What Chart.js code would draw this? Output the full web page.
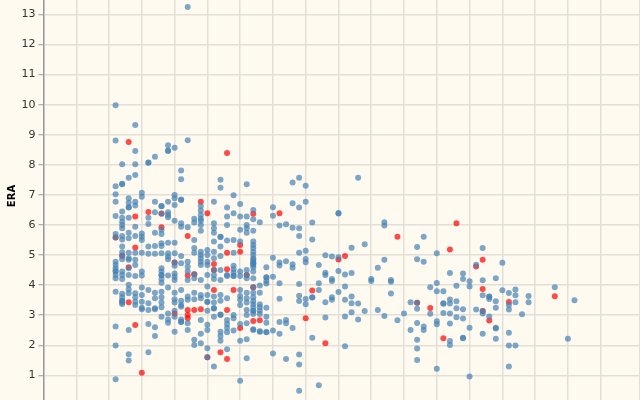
<!DOCTYPE html>
<html>
<head>
<meta charset="utf-8">
<script src="https://cdn.jsdelivr.net/npm/chart.js@4/dist/chart.umd.min.js"></script>
<style>
html, body { margin: 0; padding: 0; background: #fffaf0; overflow: hidden; }
#wrap { width: 640px; height: 400px; }
</style>
</head>
<body>
<div id="wrap"><canvas id="chart" width="640" height="400"></canvas></div>
<script>
// Valores, uma lista de ERA por coluna do eixo x
const blueX = [11,12,13,14,15,16,17,18,19,20,21,22,23,24,25,26,27,28,29,30,31,32,33,34,35,36,37,38,39,40,41,42,43,44,45,46,47,48,49,50,51,52,53,54,55,56,57,58,59,60,61,62,63,64,65,66,67,68,69,70,71,72,73,74,78,80,81];
const blueEra = [
  [9.98,8.81,7.29,7.02,6.77,6.30,5.70,5.58,4.78,4.67,4.56,4.47,4.45,4.34,4.23,3.78,2.62,1.99,0.87],
  [8.02,7.37,7.35,6.45,6.24,6.11,6.00,5.89,5.63,5.52,5.28,5.09,4.98,4.86,4.45,4.34,4.20,3.71,3.60,3.48,3.47,3.41,3.37],
  [7.57,6.89,6.74,6.59,6.58,6.24,5.74,5.56,5.08,4.89,4.84,4.56,4.34,4.01,3.86,3.73,2.51,1.70,1.49],
  [9.32,8.46,8.02,7.66,6.77,6.65,5.94,5.63,5.08,4.84,4.67,4.30,3.73,3.60,3.45,3.34],
  [7.07,6.94,5.72,5.61,5.50,5.08,4.45,4.32,3.92,3.67,3.45,3.25,3.20],
  [8.08,8.07,6.24,6.03,5.28,5.04,3.84,3.40,3.17,2.71,1.77],
  [8.27,6.77,6.42,5.74,5.30,5.04,3.75,3.56,3.23,3.20,2.60,2.31],
  [6.63,6.62,6.37,5.84,5.70,5.39,5.30,5.06,4.56,4.45,4.34,4.33,4.20,4.08,3.78,3.60,3.42,3.26,2.95],
  [8.65,8.48,8.46,6.77,6.42,6.33,6.26,5.41,5.06,4.95,4.86,4.32,3.92,3.06,2.86,2.75],
  [8.57,7.00,6.89,6.66,6.14,5.41,5.06,4.75,4.64,4.39,4.28,4.17,3.75,3.53,3.42,3.15,2.95,2.45],
  [7.81,7.52,6.85,6.83,6.06,5.94,4.97,4.73,3.84,3.48,3.34,3.28,2.86,2.78,2.77],
  [13.25,8.82,5.92,4.78,4.61,4.45,4.17,3.62,3.51,2.73,2.51],
  [6.21,6.08,5.50,5.23,5.08,4.36,4.23,3.75,3.53,2.18,2.01],
  [6.63,6.48,6.33,6.21,6.14,6.00,5.81,5.11,5.00,4.89,4.78,4.67,4.17,3.67,3.56,2.84,2.38,2.07],
  [5.17,5.00,4.78,4.67,4.34,3.95,3.67,3.45,3.44,3.15,2.68,2.51,1.90,1.60],
  [6.77,6.06,5.89,5.74,5.45,5.11,4.89,4.50,4.34,4.20,3.62,3.42,3.23,3.22,2.95,1.29],
  [7.50,7.24,5.61,5.60,5.28,4.97,4.50,4.17,3.67,3.48,3.02,3.01,2.45,2.31,2.15],
  [6.58,6.28,6.00,5.48,4.34,4.30,3.56,2.84,2.71,2.57,2.43,1.87],
  [6.99,6.39,5.50,5.08,4.64,4.53,4.42,4.31,4.30,3.01,2.90,2.49],
  [6.70,6.28,5.84,5.45,4.45,4.30,3.84,3.64,3.51,3.34,2.71,2.15,0.82],
  [7.35,6.28,6.00,5.89,5.74,4.50,4.34,4.23,3.75,3.56,3.42,3.17,3.01,2.73,2.20,1.57],
  [6.50,6.19,5.81,5.45,5.33,5.23,5.11,5.00,4.89,4.84,4.78,4.73,4.72,4.67,4.59,4.45,4.23,3.93,3.75,3.60,3.47,3.37,3.26,3.15,3.14,3.04,2.53,2.51],
  [6.09,3.99,3.75,3.36,3.26,3.15,3.04,2.47,2.45],
  [4.59,4.26,4.25,4.14,4.05,3.25,2.95,2.75,2.44,2.43],
  [6.59,6.31,4.91,4.28,2.49,1.73],
  [5.98,4.75,4.65,4.06,3.55,2.77,2.38],
  [6.02,4.79,2.84,2.73,1.54],
  [7.41,6.72,5.91,4.69,4.58,2.57],
  [7.57,6.58,5.89,5.63,5.08,4.04,3.65,3.47,1.69,1.36,0.49],
  [7.30,6.77,5.14,4.87,4.76,3.54,3.36],
  [6.08,5.52,3.60,3.59,2.25],
  [4.67,4.06,3.84,0.67],
  [4.99,4.41,4.34,3.43,2.92],
  [4.95,4.20,4.14,3.60,3.51],
  [6.40,6.38,4.93,4.47,3.77],
  [4.35,3.95,3.51,2.96,1.97],
  [5.24,4.40,3.62,3.40,3.10],
  [7.57,3.39,2.86],
  [5.36,3.14],
  [4.20,4.14],
  [4.58,3.17],
  [6.09,5.98,4.84,2.97],
  [4.17,4.11,3.72],
  [2.83],
  [3.06],
  [3.43,2.51],
  [5.27,4.86,3.41,3.21,2.74,2.18,1.89,1.51],
  [5.61,4.78,2.62,2.51],
  [3.93,3.05],
  [5.06,4.07,3.80,2.80,2.70,1.22],
  [3.80,3.40,3.38,3.07],
  [4.40,3.52,3.39,3.06,2.72,2.14,2.01],
  [3.98,3.46,3.23,2.93],
  [4.39,4.20,3.20,2.89,2.25,2.23],
  [4.13,3.95,2.58,0.96],
  [4.68,3.19],
  [5.23,4.16,3.66,3.14,3.06,2.38],
  [3.62,3.61,3.54,2.96],
  [4.23,3.46,3.25,2.58,2.56,2.22],
  [4.74,3.83],
  [3.74,3.34,3.19,2.42,1.99,1.29],
  [3.85,3.66,3.43,1.99],
  [3.03],
  [3.64,3.43],
  [3.93],
  [2.22],
  [3.50]
];

const redX = [11,12,13,14,15,16,18,20,22,23,24,25,26,27,28,29,30,31,32,33,36,40,41,43,45,46,54,57,59,61,62,63,66,67,68,71,78];
const redEra = [
  [5.58],
  [4.98],
  [8.76,4.59,3.43],
  [6.28,5.25,2.67],
  [1.09],
  [6.43],
  [6.38,5.92],
  [4.75,3.06],
  [5.63,4.32,3.17,3.01,2.90],
  [4.36,3.17],
  [6.77,3.20],
  [6.39,1.60],
  [4.70,4.50,3.84],
  [1.77],
  [8.39,5.08,4.53,3.17,1.54],
  [3.84],
  [5.33,5.11,2.57],
  [4.34],
  [6.37,3.93,2.81],
  [2.83],
  [6.39],
  [2.90],
  [3.82],
  [2.07],
  [4.85],
  [4.97],
  [5.61],
  [3.41],
  [3.24],
  [2.23],
  [5.18],
  [6.06],
  [4.62],
  [4.84,3.87,3.14],
  [2.82],
  [3.44],
  [3.63]
];

const yTickStep = 1;
const xTickStep = 5;

// Monta os pontos {x, y} a partir das listas por coluna
function toPoints(xs, eras) {
    const pts = [];
    xs.forEach((x, i) => {
        eras[i].forEach(v => pts.push({ x: x, y: v }));
    });
    return pts;
}

// Mantem so as marcas inteiras, os limites do recorte nao levam grade
function onlyIntegers(scale) {
    scale.ticks = scale.ticks.filter(t => Number.isInteger(t.value));
}

// Titulo do eixo y, um pouco acima do centro como no original
const eraTitle = {
    id: 'eraTitle',
    afterDraw(chart) {
        const ctx = chart.ctx;
        ctx.save();
        ctx.translate(12, 196);
        ctx.rotate(-Math.PI / 2);
        ctx.font = 'bold 10px "DejaVu Sans"';
        ctx.fillStyle = '#000';
        ctx.textAlign = 'center';
        ctx.textBaseline = 'middle';
        ctx.fillText('ERA', 0, 0);
        ctx.restore();
    }
};

new Chart(document.getElementById('chart'), {
    type: 'scatter',
    data: {
        datasets: [
            { data: toPoints(blueX, blueEra), backgroundColor: 'rgba(70,130,180,0.7)', borderWidth: 0, pointRadius: 3 },
            { data: toPoints(redX, redEra), backgroundColor: 'rgba(255,0,0,0.7)', borderWidth: 0, pointRadius: 3 }
        ]
    },
    plugins: [eraTitle],
    options: {
        responsive: false,
        animation: false,
        layout: { padding: 0, autoPadding: false },
        plugins: { legend: { display: false }, tooltip: { enabled: false } },
        scales: {
            x: {
                type: 'linear',
                min: 0,
                max: 91,
                afterFit: s => { s.height = 0; s.paddingLeft = 0; s.paddingRight = 0; },
                afterBuildTicks: onlyIntegers,
                ticks: { display: false, stepSize: xTickStep, autoSkip: false },
                grid: { color: '#e2dfd8', lineWidth: 1.5, drawTicks: false },
                border: { display: false }
            },
            y: {
                type: 'linear',
                min: 0.18,
                max: 13.48,
                afterFit: s => { s.width = 43.5; s.paddingTop = 0; s.paddingBottom = 0; },
                afterBuildTicks: onlyIntegers,
                ticks: {
                    stepSize: yTickStep,
                    autoSkip: false,
                    color: '#333',
                    padding: 3,
                    font: { family: 'DejaVu Sans', size: 11 }
                },
                grid: { color: '#e2dfd8', lineWidth: 1.5, tickColor: '#999', tickLength: 5, tickWidth: 1 },
                border: { color: '#999', width: 1.5 }
            }
        }
    }
});
</script>
</body>
</html>
